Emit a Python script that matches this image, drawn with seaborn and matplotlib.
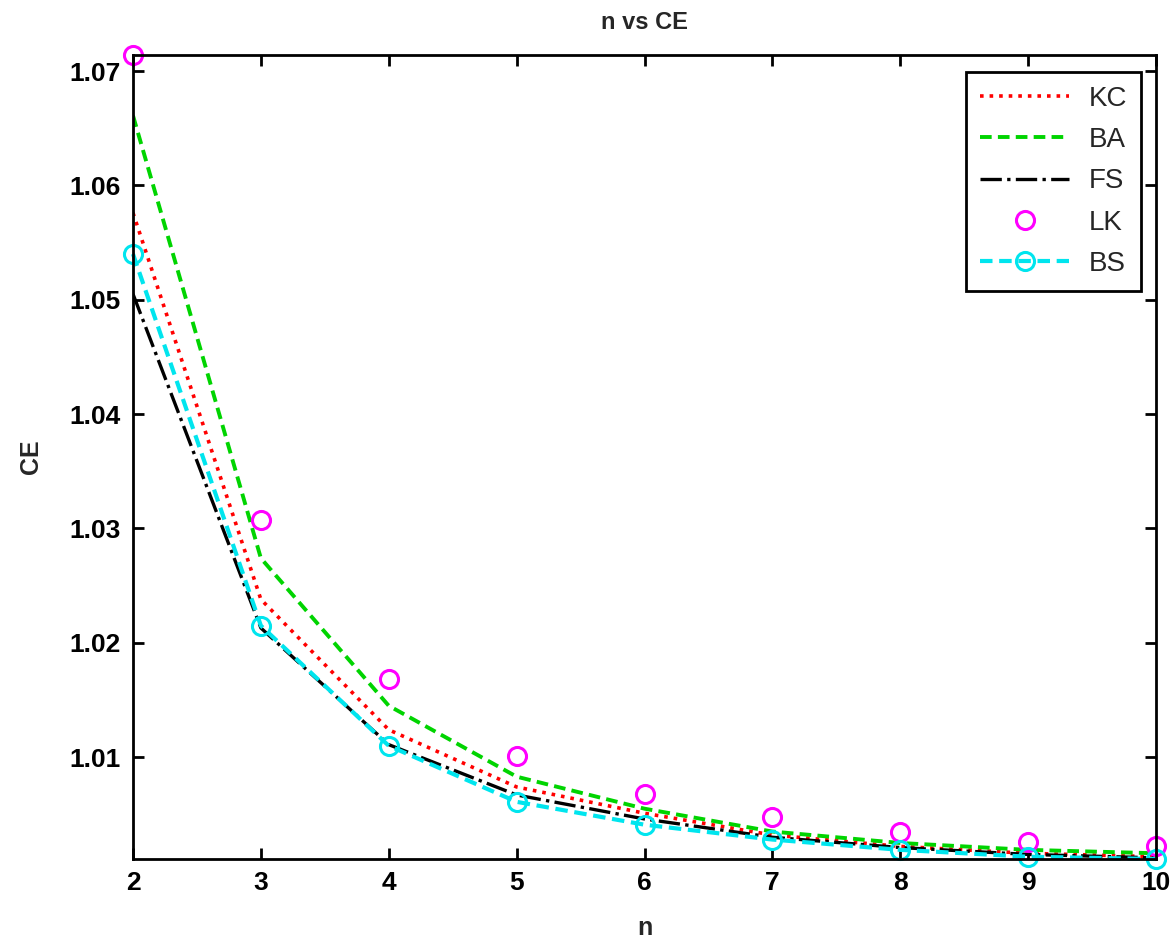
import matplotlib
matplotlib.use("Agg")
import matplotlib.pyplot as plt
import seaborn as sns

# данные
n = [2, 3, 4, 5, 6, 7, 8, 9, 10]
kc = [1.0576, 1.0238, 1.0124, 1.0074, 1.0051, 1.0032, 1.0022, 1.0016, 1.0013]
ba = [1.0661, 1.0274, 1.0145, 1.0083, 1.0055, 1.0035, 1.0025, 1.0019, 1.0016]
fs = [1.0505, 1.0213, 1.0111, 1.0067, 1.0046, 1.0030, 1.0021, 1.0015, 1.0012]
lk = [1.0714, 1.0307, 1.0168, 1.0101, 1.0068, 1.0048, 1.0035, 1.0026, 1.0022]
bs = [1.0540, 1.0215, 1.0110, 1.0061, 1.0041, 1.0028, 1.0019, 1.0013, 1.0011]

sns.set_style("ticks")
plt.rcParams["font.family"] = ["Liberation Sans", "DejaVu Sans"]
plt.rcParams["xtick.direction"] = "in"
plt.rcParams["ytick.direction"] = "in"

fig = plt.figure(figsize=(11.74, 9.41), dpi=100)
ax = fig.add_axes([133 / 1174, 1 - 859 / 941, (1156 - 133) / 1174, (859 - 55) / 941])

sns.lineplot(x=n, y=kc, ax=ax, color="#ff0000", linestyle=":", linewidth=2.6, label="KC")
sns.lineplot(x=n, y=ba, ax=ax, color="#00d400", linestyle=(0, (3, 1.6)), linewidth=2.8, label="BA")
sns.lineplot(x=n, y=fs, ax=ax, color="black", linestyle="-.", linewidth=2.4, label="FS")
sns.lineplot(x=n, y=lk, ax=ax, color="#ff00ff", linestyle="none", marker="o",
             markersize=13, markerfacecolor="none", markeredgecolor="#ff00ff",
             markeredgewidth=2.2, clip_on=False, label="LK")
sns.lineplot(x=n, y=bs, ax=ax, color="#00e5ee", linestyle=(0, (3, 1.6)), linewidth=3,
             marker="o", markersize=13, markerfacecolor="none", markeredgecolor="#00e5ee",
             markeredgewidth=2.2, clip_on=False, label="BS")

ax.set_xlim(2, 10)
ax.set_ylim(min(bs), max(lk))
ax.set_xticks(n)
ax.set_yticks([1.01, 1.02, 1.03, 1.04, 1.05, 1.06, 1.07])
ax.set_yticklabels(["1.01", "1.02", "1.03", "1.04", "1.05", "1.06", "1.07"])

for side in ["top", "right", "bottom", "left"]:
    ax.spines[side].set_visible(True)
    ax.spines[side].set_color("black")
    ax.spines[side].set_linewidth(2)
ax.tick_params(axis="both", which="both", direction="in", length=8, width=2,
               top=True, right=True, labelsize=19, pad=9, colors="black")
for lab in ax.get_xticklabels() + ax.get_yticklabels():
    lab.set_fontweight("bold")

ax.set_title("n vs CE", fontsize=17, fontweight="bold", pad=19)
ax.set_xlabel("n", fontsize=18, fontweight="bold", labelpad=15)
ax.set_ylabel("CE", fontsize=18, fontweight="bold", labelpad=19)

leg = ax.legend(loc="upper right", bbox_to_anchor=(1 - 15 / 1023, 1 - 17 / 804),
                borderaxespad=0, fontsize=20, handlelength=3.2, handletextpad=0.7,
                labelspacing=0.55, numpoints=1, fancybox=False, framealpha=1,
                borderpad=0.5)
leg.get_frame().set_edgecolor("black")
leg.get_frame().set_linewidth(2)

fig.savefig("out.png", dpi=100)
